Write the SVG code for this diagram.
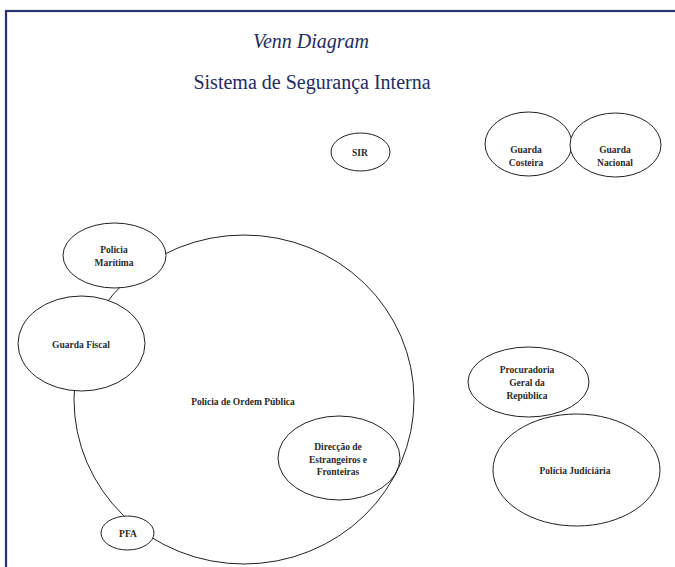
<svg xmlns="http://www.w3.org/2000/svg" width="675" height="567" viewBox="0 0 675 567">
<style>
.frame{fill:none;stroke:#2b3470;stroke-width:2.2}
.title{font-family:"Liberation Serif","DejaVu Serif","Times New Roman",serif;font-size:20px;fill:#232c63;text-anchor:middle}
.n{fill:#fff;stroke:#222;stroke-width:1}
.big{fill:none;stroke:#222;stroke-width:1}
.t{font-family:"Liberation Serif","DejaVu Serif","Times New Roman",serif;font-size:9.5px;font-weight:bold;fill:#2a2a2a;text-anchor:middle}
</style>
<rect width="675" height="567" fill="#fff"/>
<rect class="frame" x="6" y="11" width="700" height="600"/>
<text class="title" x="311" y="48" font-size="19" font-style="italic">Venn Diagram</text>
<text class="title" x="312" y="89">Sistema de Segurança Interna</text>
<g id="policia-ordem-publica">
<ellipse class="big" cx="244" cy="399.5" rx="170" ry="164.5"/>
<text class="t" x="243" y="405">Polícia de Ordem Pública</text>
</g>
<g id="direccao">
<ellipse class="big" cx="339" cy="458" rx="61" ry="42"/>
<text class="t" x="338" y="450">Direcção de</text>
<text class="t" x="338" y="462.5">Estrangeiros e</text>
<text class="t" x="338" y="475">Fronteiras</text>
</g>
<g id="policia-maritima">
<ellipse class="n" cx="114.5" cy="255.5" rx="51.5" ry="32.5"/>
<text class="t" x="114" y="253">Policia</text>
<text class="t" x="114" y="266">Marítima</text>
</g>
<g id="guarda-fiscal">
<ellipse class="n" cx="81.5" cy="343.5" rx="63.5" ry="47.5"/>
<text class="t" x="81" y="348">Guarda Fiscal</text>
</g>
<g id="pfa">
<ellipse class="n" cx="127.5" cy="533" rx="26.5" ry="17"/>
<text class="t" x="128" y="536.5">PFA</text>
</g>
<g id="sir">
<ellipse class="n" cx="360.5" cy="152" rx="29.5" ry="19"/>
<text class="t" x="360" y="155.5">SIR</text>
</g>
<g id="guarda-costeira">
<ellipse class="n" cx="528.5" cy="144" rx="43.5" ry="32"/>
<text class="t" x="526" y="153">Guarda</text>
<text class="t" x="526" y="166">Costeira</text>
</g>
<g id="guarda-nacional">
<ellipse class="n" cx="615.5" cy="145" rx="45.5" ry="32"/>
<text class="t" x="615" y="153">Guarda</text>
<text class="t" x="615" y="166">Nacional</text>
</g>
<g id="procuradoria">
<ellipse class="n" cx="528.5" cy="382" rx="60.5" ry="35"/>
<text class="t" x="527" y="373">Procuradoria</text>
<text class="t" x="527" y="386">Geral da</text>
<text class="t" x="527" y="399">República</text>
</g>
<g id="policia-judiciaria">
<ellipse class="n" cx="576.5" cy="470" rx="83.5" ry="56"/>
<text class="t" x="575" y="474">Polícia Judiciária</text>
</g>
<g id="connectors"></g>
</svg>
